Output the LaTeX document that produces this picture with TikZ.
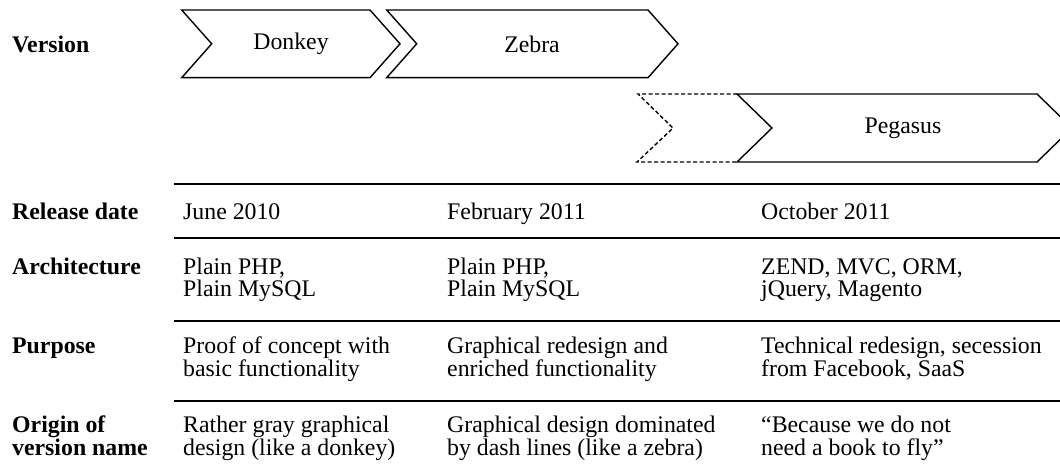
\documentclass[tikz,border=0pt]{standalone}
\usepackage{fontspec}
\setmainfont{Liberation Serif}
\begin{document}
\begin{tikzpicture}[x=1pt,y=-1pt,
  chev/.style={line width=1.4pt, line join=miter},
  chevdash/.style={line width=1.4pt, dash pattern=on 4pt off 2.5pt},
  rule/.style={line width=2pt},
  txt/.style={font=\fontsize{23.8}{22.7}\selectfont, inner sep=0pt, anchor=base west},
  lbl/.style={txt, font=\fontsize{23.8}{22.7}\selectfont\bfseries},
  ctr/.style={font=\fontsize{23.8}{22.7}\selectfont, inner sep=0pt}]
\useasboundingbox (0,0) rectangle (1060,468);
% chevrons
\draw[chev] (181.7,10) -- (370,10) -- (400,43.8) -- (370,77.7) -- (181.7,77.7) -- (211.7,43.8) -- cycle;
\draw[chev] (386.7,10) -- (648,10) -- (678,43.8) -- (648,77.7) -- (386.7,77.7) -- (416.7,43.8) -- cycle;
\draw[chevdash] (737,94) -- (638,94) -- (673,128) -- (637,162) -- (737,162);
\draw[chev] (737,94) -- (1037,94) -- (1072,128) -- (1037,162) -- (737,162) -- (772,128) -- cycle;
\node[ctr] (donkey) at (291,44) {Donkey};
\node[ctr] (zebra) at (532,44) {Zebra};
\node[ctr] (pegasus) at (903,128) {Pegasus};
% rules
\coordinate (r1a) at (174,184.3); \coordinate (r1b) at (1060,184.3);
\coordinate (r2a) at (174,237.7); \coordinate (r2b) at (1060,237.7);
\coordinate (r3a) at (174,321);   \coordinate (r3b) at (1060,321);
\coordinate (r4a) at (174,400.5); \coordinate (r4b) at (1060,400.5);
\draw[rule] (r1a) -- (r1b);
\draw[rule] (r2a) -- (r2b);
\draw[rule] (r3a) -- (r3b);
\draw[rule] (r4a) -- (r4b);
% labels
\node[lbl] (lver) at (12,52.3) {Version};
\node[lbl] (lrel) at (12,219) {Release date};
\node[lbl] (larc) at (12,274) {Architecture};
\node[lbl] (lpur) at (12,353.3) {Purpose};
\node[lbl] (lori) at (12,432.3) {\vtop{\hbox{Origin of}\hbox{version name}}};
% column 1
\node[txt] (rel1) at (183,219) {June 2010};
\node[txt] (arc1) at (183,274) {\vtop{\hbox{Plain PHP,}\hbox{Plain MySQL}}};
\node[txt] (pur1) at (183,353.3) {\vtop{\hbox{Proof of concept with}\hbox{basic functionality}}};
\node[txt] (ori1) at (183,432.3) {\vtop{\hbox{Rather gray graphical}\hbox{design (like a donkey)}}};
% column 2
\node[txt] (rel2) at (447,219) {February 2011};
\node[txt] (arc2) at (447,274) {\vtop{\hbox{Plain PHP,}\hbox{Plain MySQL}}};
\node[txt] (pur2) at (447,353.3) {\vtop{\hbox{Graphical redesign and}\hbox{enriched functionality}}};
\node[txt] (ori2) at (447,432.3) {\vtop{\hbox{Graphical design dominated}\hbox{by dash lines (like a zebra)}}};
% column 3
\node[txt] (rel3) at (761,219) {October 2011};
\node[txt] (arc3) at (761,274) {\vtop{\hbox{ZEND, MVC, ORM,}\hbox{jQuery, Magento}}};
\node[txt] (pur3) at (761,353.3) {\vtop{\hbox{Technical redesign, secession}\hbox{from Facebook, SaaS}}};
\node[txt] (ori3) at (761,432.3) {\vtop{\hbox{``Because we do not}\hbox{need a book to fly''}}};
\end{tikzpicture}
\end{document}
